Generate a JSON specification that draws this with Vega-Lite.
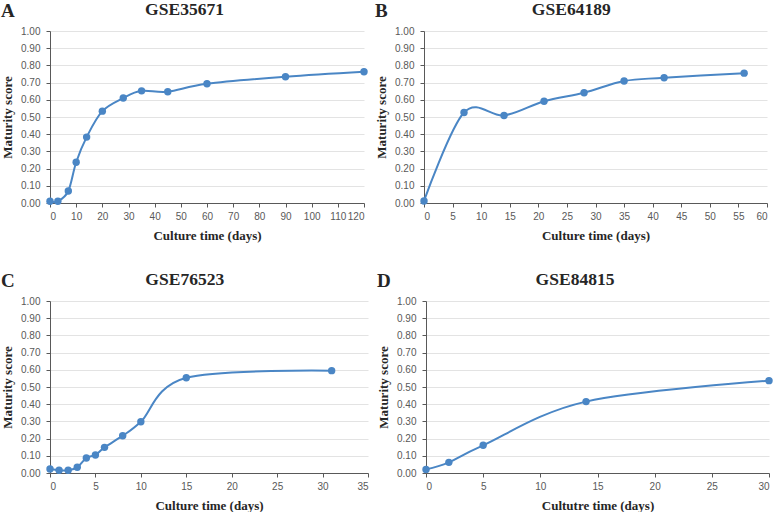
{
  "$schema": "https://vega.github.io/schema/vega-lite/v6.json",
  "padding": {"left": 1, "top": 0, "right": 0, "bottom": 0},
  "background": "white",
  "config": {
    "view": {"stroke": null},
    "axis": {
      "labelFont": "Liberation Sans", "labelFontSize": 10, "labelColor": "#595959",
      "titleFont": "Liberation Serif", "titleFontSize": 13, "titleFontWeight": "bold", "titleColor": "#262626",
      "domainColor": "#595959", "tickColor": "#595959", "tickSize": 4, "domainWidth": 1
    },
    "axisY": {"grid": true, "gridColor": "#e3e3e3", "labelPadding": 6, "titlePadding": 5, "minExtent": 31, "maxExtent": 31},
    "axisX": {"grid": false, "labelPadding": 4, "titlePadding": 8},
    "title": {"font": "Liberation Serif", "fontWeight": "bold", "color": "#262626"}
  },
  "datasets": {
    "A": [
      {"day": 0, "score": 0.01}, {"day": 3, "score": 0.01}, {"day": 7, "score": 0.07}, {"day": 10, "score": 0.237},
      {"day": 14, "score": 0.383}, {"day": 20, "score": 0.534}, {"day": 28, "score": 0.61}, {"day": 35, "score": 0.652},
      {"day": 45, "score": 0.647}, {"day": 60, "score": 0.693}, {"day": 90, "score": 0.734}, {"day": 120, "score": 0.763}
    ],
    "B": [
      {"day": 0, "score": 0.012}, {"day": 7, "score": 0.526}, {"day": 14, "score": 0.509}, {"day": 21, "score": 0.592},
      {"day": 28, "score": 0.641}, {"day": 35, "score": 0.709}, {"day": 42, "score": 0.728}, {"day": 56, "score": 0.755}
    ],
    "C": [
      {"day": 0, "score": 0.023}, {"day": 1, "score": 0.016}, {"day": 2, "score": 0.016}, {"day": 3, "score": 0.033},
      {"day": 4, "score": 0.087}, {"day": 5, "score": 0.105}, {"day": 6, "score": 0.149}, {"day": 8, "score": 0.217},
      {"day": 10, "score": 0.298}, {"day": 15, "score": 0.554}, {"day": 31, "score": 0.595}
    ],
    "D": [
      {"day": 0, "score": 0.021}, {"day": 2, "score": 0.062}, {"day": 5, "score": 0.161}, {"day": 14, "score": 0.415},
      {"day": 30, "score": 0.537}
    ]
  },
  "spacing": 28,
  "vconcat": [
    {
      "spacing": 7,
      "hconcat": [
        {
          "title": {"text": "A", "anchor": "start", "frame": "bounds", "fontSize": 19, "offset": -20},
          "vconcat": [
            {
              "title": {"text": "GSE35671", "anchor": "middle", "frame": "bounds", "fontSize": 17.5, "offset": 8},
              "width": 314, "height": 172,
              "data": {"name": "A"},
              "encoding": {
                "x": {"field": "day", "type": "quantitative", "scale": {"domain": [0, 120], "nice": false},
                      "axis": {"values": [0,10,20,30,40,50,60,70,80,90,100,110,120], "title": "Culture time (days)"}},
                "y": {"field": "score", "type": "quantitative", "scale": {"domain": [0, 1], "nice": false},
                      "axis": {"values": [0,0.1,0.2,0.3,0.4,0.5,0.6,0.7,0.8,0.9,1], "format": ".2f", "title": "Maturity score"}}
              },
              "layer": [
                {"mark": {"type": "line", "interpolate": "cardinal", "color": "#4a86c5", "strokeWidth": 2}},
                {"mark": {"type": "circle", "color": "#4a86c5", "opacity": 1, "size": 55}}
              ]
            }
          ]
        },
        {
          "title": {"text": "B", "anchor": "start", "frame": "bounds", "fontSize": 19, "offset": -20},
          "vconcat": [
            {
              "title": {"text": "GSE64189", "anchor": "middle", "frame": "bounds", "fontSize": 17.5, "offset": 8},
              "width": 343, "height": 172,
              "data": {"name": "B"},
              "encoding": {
                "x": {"field": "day", "type": "quantitative", "scale": {"domain": [0, 60], "nice": false},
                      "axis": {"values": [0,5,10,15,20,25,30,35,40,45,50,55,60], "title": "Culture time (days)"}},
                "y": {"field": "score", "type": "quantitative", "scale": {"domain": [0, 1], "nice": false},
                      "axis": {"values": [0,0.1,0.2,0.3,0.4,0.5,0.6,0.7,0.8,0.9,1], "format": ".2f", "title": "Maturity score"}}
              },
              "layer": [
                {"mark": {"type": "line", "interpolate": "cardinal", "color": "#4a86c5", "strokeWidth": 2}},
                {"mark": {"type": "circle", "color": "#4a86c5", "opacity": 1, "size": 55}}
              ]
            }
          ]
        }
      ]
    },
    {
      "spacing": 8,
      "hconcat": [
        {
          "title": {"text": "C", "anchor": "start", "frame": "bounds", "fontSize": 19, "offset": -20},
          "vconcat": [
            {
              "title": {"text": "GSE76523", "anchor": "middle", "frame": "bounds", "fontSize": 17.5, "offset": 8},
              "width": 318, "height": 172,
              "data": {"name": "C"},
              "encoding": {
                "x": {"field": "day", "type": "quantitative", "scale": {"domain": [0, 35], "nice": false},
                      "axis": {"values": [0,5,10,15,20,25,30,35], "title": "Culture time (days)"}},
                "y": {"field": "score", "type": "quantitative", "scale": {"domain": [0, 1], "nice": false},
                      "axis": {"values": [0,0.1,0.2,0.3,0.4,0.5,0.6,0.7,0.8,0.9,1], "format": ".2f", "title": "Maturity score"}}
              },
              "layer": [
                {"mark": {"type": "line", "interpolate": "cardinal", "color": "#4a86c5", "strokeWidth": 2}},
                {"mark": {"type": "circle", "color": "#4a86c5", "opacity": 1, "size": 55}}
              ]
            }
          ]
        },
        {
          "title": {"text": "D", "anchor": "start", "frame": "bounds", "fontSize": 19, "offset": -20},
          "vconcat": [
            {
              "title": {"text": "GSE84815", "anchor": "middle", "frame": "bounds", "fontSize": 17.5, "offset": 8},
              "width": 343, "height": 172,
              "data": {"name": "D"},
              "encoding": {
                "x": {"field": "day", "type": "quantitative", "scale": {"domain": [0, 30], "nice": false},
                      "axis": {"values": [0,5,10,15,20,25,30], "title": "Cultutre time (days)"}},
                "y": {"field": "score", "type": "quantitative", "scale": {"domain": [0, 1], "nice": false},
                      "axis": {"values": [0,0.1,0.2,0.3,0.4,0.5,0.6,0.7,0.8,0.9,1], "format": ".2f", "title": "Maturity score"}}
              },
              "layer": [
                {"mark": {"type": "line", "interpolate": "cardinal", "color": "#4a86c5", "strokeWidth": 2}},
                {"mark": {"type": "circle", "color": "#4a86c5", "opacity": 1, "size": 55}}
              ]
            }
          ]
        }
      ]
    }
  ]
}
